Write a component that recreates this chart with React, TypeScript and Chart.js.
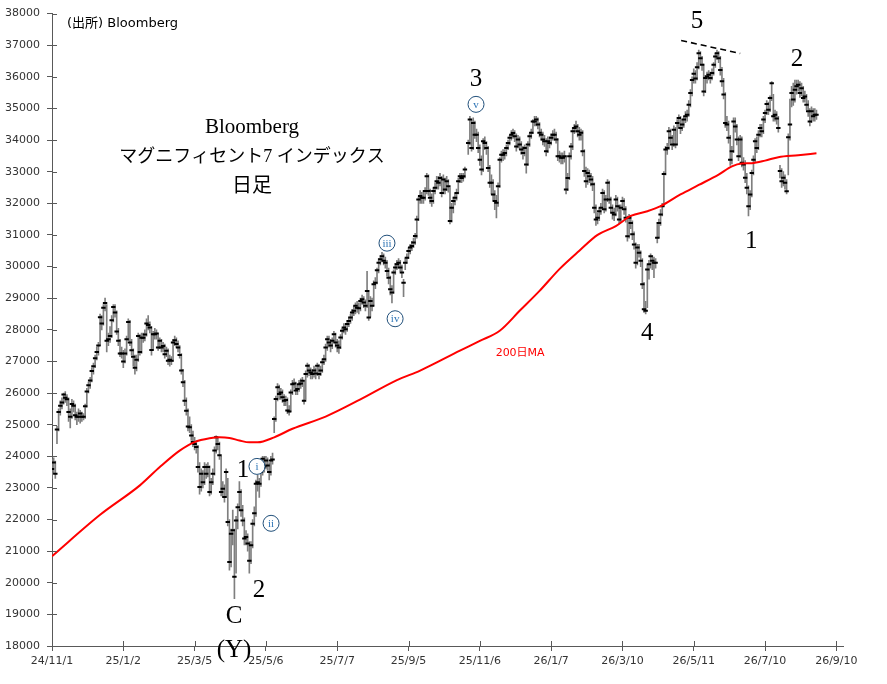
import { useEffect, useRef } from 'react'
import { Chart, registerables } from 'chart.js'

Chart.register(...registerables)

// x axis: one slot per trading day, a label every 43 days
const xLabels = ['24/11/1', '25/1/2', '25/3/5', '25/5/6', '25/7/7', '25/9/5', '25/11/6', '26/1/7', '26/3/10', '26/5/11', '26/7/10', '26/9/10']
const labelStep = 43
const lastSlot = 477

const closes = [
  23600, 23800, 23450, 24850, 25400, 25600, 25700, 25950, 25850, 25800,
  25400, 25250, 25650, 25600, 25300, 25250, 25250, 25350, 25250, 25250,
  25580, 26050, 26250, 26400, 26700, 26850, 27100, 27300, 27500, 28400,
  28200, 28700, 28850, 27650, 27700, 27800, 28300, 28720, 28550, 27950,
  27650, 27250, 27250, 27000, 27250, 27700, 28250, 27600, 27350, 27150,
  26800, 27050, 27800, 27300, 27750, 27750, 27850, 28200, 28150, 28070,
  27360, 27860, 27860, 27880, 27440, 27650, 27440, 27490, 27230, 27340,
  27020, 27050, 27020, 27600, 27670, 27550, 27440, 27200, 26710, 26340,
  25760, 25440, 24940, 24920, 24660, 24450, 24390, 24290, 23660, 23030,
  23450, 23180, 23660, 23450, 23660, 22870, 23180, 23450, 24180, 24600,
  24390, 24030, 22870, 22970, 22710, 23500, 21920, 20660, 21550, 21660,
  20190, 21970, 22390, 22870, 22290, 21970, 21400, 21450, 21240, 20700,
  21190, 21870, 22200, 23130, 23180, 23130, 23500, 23920, 23680, 23870,
  23710, 23500, 23870, 23900, 25180, 25810, 26180, 25970, 26020, 25870,
  25760, 25780, 25450, 25420, 26020, 26280, 26300, 26080, 26130, 26280,
  26300, 26390, 25760, 26600, 26860, 26710, 26650, 26600, 26710, 26620,
  26860, 26600, 26710, 26970, 27070, 27440, 27700, 27600, 27500, 27650,
  27860, 27600, 27500, 27440, 27760, 27970, 28070, 28020, 28180, 28280,
  28390, 28550, 28600, 28760, 28700, 28680, 28910, 28970, 28860, 28760,
  29230, 28390, 28910, 28760, 29440, 29490, 29880, 30120, 30230, 30330,
  30180, 30120, 29860, 29650, 29280, 29180, 29810, 29970, 30070, 30120,
  29970, 29810, 29490, 30120, 30280, 30490, 30600, 30650, 30760, 30970,
  31490, 32120, 32230, 32180, 32180, 32390, 32860, 32390, 32180, 32070,
  32390, 32490, 32700, 32650, 32800, 32330, 32750, 32440, 32700, 32540,
  31440, 31860, 32070, 32180, 32330, 32700, 32860, 32800, 32860, 33070,
  null, 33910, 34650, 33750, 34540, 34170, 34170, 33750, 33380, 33070,
  33960, 33910, 33750, 33120, 32650, 32650, 32280, 32070, 32020, 32540,
  33380, 33540, 33540, 33590, 33750, 33910, 34070, 34170, 34220, 34120,
  33800, 34020, 33860, 33700, 33590, 33750, 33230, 33860, 34120, 34230,
  34590, 34590, 34650, 34490, 34230, 34170, 34020, 33960, 33650, 33960,
  33910, 34070, 34170, 34170, 34020, 33490, 33490, 33440, 33440, 33490,
  32440, 32800, 33490, 33800, 34280, 34380, 34430, 34280, 34170, 34230,
  33650, 33020, 32700, 32960, 32860, 32750, 32600, 31860, 31490, 31540,
  31750, 31860, 32330, 31810, 32120, 32650, 32120, 31860, 31700, 31650,
  32120, 31910, 31490, 31860, 32070, 31810, 31540, 30960, 31540, 31380,
  31020, 30700, 30120, 30600, 30440, 30180, 29440, 28650, 28600, 29910,
  30070, 30330, 30180, 30120, 30120, 30910, 31380, 31650, 31910, 32930,
  33700, 33750, 34280, 34070, 33860, 34330, 33860, 34540, 34700, 34380,
  34490, 34650, 34750, 34800, 35120, 35490, 35900, 36100, 35950, 36300,
  36750, 36590, 36380, 35540, 35960, 36010, 36070, 35960, 36120, 36380,
  36640, 36750, 36590, 36220, 35860, 35440, 34540, 34490, 34070, 33380,
  33650, 34590, 34430, 34020, 33490, 34020, 33280, 33230, 32810, 32490,
  31910, 32280, 32960, 33380, 33960, 33750, 34170, 34380, 34280, 34650,
  34860, 35140, 34960, 35330, 35800, 34750, 34800, 34680, 34380, 33020,
  32700, 32810, 32650, 32380, 34090, 34490, 35490, 35280, 35590, 35700,
  35750, 35490, 35640, 35330, 35380, 35120, 34910, 34590, 34910, 34750,
  34800, 34800,
]

const highs = [
  23900, 23950, 23850, 24950, 25500, 25750, 25850, 26000, 26050, 25950,
  25850, 25500, 25800, 25750, 25650, 25400, 25500, 25450, 25400, 25350,
  25650, 26150, 26350, 26500, 26800, 26950, 27200, 27450, 27600, 28500,
  28450, 28800, 29000, 28800, 27900, 28100, 28450, 28800, 28800, 28600,
  28050, 27700, 27450, 27350, 27400, 27800, 28350, 28300, 27700, 27400,
  27200, 27200, 27900, 27850, 27900, 27900, 28000, 28350, 28450, 28250,
  28100, 27950, 28050, 28000, 27900, 27750, 27700, 27600, 27550, 27450,
  27400, 27200, 27150, 27700, 27800, 27750, 27650, 27500, 27250, 26750,
  26400, 25850, 25500, 25250, 25000, 24800, 24600, 24500, 24350, 23800,
  23600, 23550, 23800, 23750, 23800, 23700, 23300, 23600, 24300, 24650,
  24600, 24450, 24000, 23200, 23100, 23600, 23300, 22000, 21700, 22300,
  21700, 22100, 22500, 23200, 22950, 22450, 22050, 21650, 21550, 21300,
  21300, 22000, 22400, 23250, 23400, 23300, 23650, 24000, 24000, 24000,
  23950, 23800, 24000, 24100, 25250, 25900, 26300, 26250, 26150, 26100,
  25950, 25900, 25850, 25600, 26100, 26400, 26450, 26350, 26250, 26400,
  26450, 26500, 26400, 26700, 26950, 26900, 26800, 26750, 26850, 26800,
  26950, 26900, 26850, 27050, 27200, 27550, 27800, 27800, 27700, 27750,
  27950, 27900, 27700, 27650, 27850, 28050, 28200, 28200, 28300, 28400,
  28500, 28650, 28750, 28850, 28900, 28850, 29000, 29100, 29050, 28950,
  29850, 29250, 29050, 29000, 29550, 29650, 29950, 30250, 30350, 30450,
  30400, 30300, 30200, 29950, 29700, 29400, 29900, 30100, 30200, 30250,
  30200, 30050, 29600, 30250, 30400, 30600, 30700, 30800, 30900, 31050,
  31600, 32200, 32400, 32350, 32400, 32500, 32950, 32900, 32450, 32300,
  32500, 32650, 32850, 32850, 32950, 32850, 32900, 32800, 32850, 32750,
  32500, 32000, 32200, 32300, 32450, 32800, 32950, 32950, 32950, 33150,
  null, 34000, 34750, 34650, 34700, 34600, 34350, 34250, 33850, 33500,
  34050, 34100, 33950, 33800, 33200, 32900, 32750, 32400, 32250, 32650,
  33450, 33650, 33700, 33700, 33850, 34000, 34150, 34300, 34350, 34300,
  34200, 34150, 34100, 33950, 33800, 33850, 33800, 33950, 34200, 34350,
  34650, 34750, 34750, 34700, 34550, 34350, 34250, 34150, 34050, 34100,
  34100, 34200, 34300, 34350, 34250, 34050, 33650, 33600, 33600, 33650,
  33500, 32950, 33600, 33900, 34400, 34500, 34600, 34500, 34400, 34350,
  34300, 33700, 33150, 33100, 33050, 32950, 32850, 32650, 31950, 31700,
  31850, 32000, 32450, 32400, 32250, 32750, 32700, 32200, 31950, 31850,
  32250, 32200, 31950, 31950, 32200, 32150, 31900, 31600, 31650, 31600,
  31450, 31100, 30750, 30700, 30700, 30500, 30250, 29500, 28900, 30050,
  30200, 30400, 30350, 30300, 30250, 31400, 31500, 31800, 32000, 33000,
  33800, 33900, 34400, 34350, 34150, 34450, 34400, 34650, 34800, 34750,
  34650, 34750, 34900, 34950, 35250, 35600, 36000, 36250, 36200, 36450,
  36850, 36800, 36650, 36400, 36050, 36150, 36200, 36150, 36250, 36450,
  36750, 36850, 36800, 36650, 36300, 35950, 35500, 34750, 34600, 34150,
  33800, 34700, 34700, 34500, 34100, 34150, 34100, 33450, 33350, 32950,
  32550, 32400, 33050, 33500, 34050, 34100, 34300, 34500, 34500, 34750,
  34950, 35250, 35200, 35400, 35850, 35450, 34950, 34900, 34750, 33200,
  33100, 33000, 32900, 32750, 34200, 35300, 35700, 35800, 35900, 35900,
  35900, 35850, 35800, 35700, 35550, 35450, 35250, 35000, 35050, 35000,
  35000, 34950,
]

const lows = [
  23300, 23450, 23300, 24400, 24800, 25300, 25500, 25650, 25700, 25600,
  25100, 24900, 25200, 25400, 25150, 25000, 25100, 25050, 25100, 25150,
  25200, 25550, 26000, 26150, 26350, 26600, 26800, 27050, 27200, 27500,
  28000, 28150, 28600, 27300, 27500, 27600, 27750, 28250, 28400, 27850,
  27500, 27150, 27100, 26800, 26950, 27200, 27650, 27500, 27200, 26850,
  26600, 26700, 27000, 27200, 27250, 27600, 27650, 27800, 28000, 27900,
  27200, 27350, 27700, 27700, 27350, 27400, 27300, 27300, 27100, 27150,
  26900, 26850, 26900, 27000, 27500, 27450, 27300, 27100, 26600, 26200,
  25600, 25300, 24800, 24750, 24500, 24300, 24200, 24100, 23500, 22800,
  22900, 23000, 23100, 23300, 23350, 22750, 22800, 23100, 23400, 24100,
  24200, 23900, 22750, 22700, 22550, 22700, 21800, 20400, 20500, 21200,
  19500, 20300, 21700, 22300, 22100, 21800, 21200, 21200, 21000, 20300,
  20600, 21100, 21800, 22100, 22900, 22700, 23050, 23400, 23500, 23600,
  23550, 23250, 23400, 23750, 24750, 25100, 25750, 25800, 25800, 25700,
  25600, 25600, 25350, 25300, 25400, 25950, 26150, 25950, 25950, 26050,
  26150, 26200, 25650, 25800, 26500, 26550, 26450, 26450, 26500, 26450,
  26550, 26450, 26550, 26650, 26900, 27000, 27350, 27450, 27300, 27400,
  27600, 27450, 27300, 27250, 27400, 27700, 27900, 27850, 27950, 28100,
  28200, 28300, 28450, 28500, 28550, 28500, 28600, 28800, 28700, 28600,
  28700, 28300, 28400, 28600, 28750, 29300, 29450, 29800, 30050, 30150,
  30050, 29950, 29700, 29450, 29100, 28850, 29150, 29750, 29900, 29950,
  29850, 29650, 29050, 29900, 30100, 30250, 30400, 30500, 30600, 30700,
  30900, 31450, 32000, 32000, 32000, 32100, 32300, 32250, 32000, 31900,
  32000, 32300, 32450, 32450, 32550, 32200, 32300, 32300, 32400, 32350,
  31350, 31400, 31700, 31950, 32100, 32300, 32650, 32650, 32700, 32800,
  null, 33550, 33850, 33650, 33700, 34050, 33950, 33600, 33200, 32900,
  33000, 33700, 33550, 33000, 32500, 32300, 32100, 31800, 31540, 31900,
  32500, 33300, 33350, 33400, 33500, 33700, 33850, 34000, 34050, 33950,
  33650, 33750, 33700, 33550, 33400, 33500, 32950, 33200, 33800, 34050,
  34200, 34450, 34450, 34350, 34100, 34000, 33850, 33800, 33500, 33600,
  33750, 33850, 34000, 34000, 33900, 33350, 33300, 33250, 33250, 33300,
  32300, 32400, 32750, 33400, 33700, 34200, 34250, 34100, 34000, 34000,
  33500, 32850, 32500, 32600, 32650, 32550, 32400, 31700, 31300, 31350,
  31450, 31650, 31800, 31700, 31750, 32050, 32000, 31700, 31500, 31450,
  31600, 31750, 31350, 31400, 31800, 31650, 31400, 30800, 30900, 31200,
  30850, 30550, 29950, 30050, 30300, 30000, 29300, 28550, 28500, 28700,
  29600, 29950, 29900, 29650, 29950, 30750, 30900, 31300, 31600, 31900,
  32900, 33550, 33700, 33900, 33700, 33800, 33750, 33850, 34400, 34200,
  34300, 34400, 34550, 34600, 34750, 35050, 35400, 35800, 35800, 35900,
  36250, 36400, 36200, 35400, 35500, 35800, 35900, 35800, 35900, 36050,
  36300, 36550, 36450, 36050, 35700, 35300, 34400, 34300, 33900, 33200,
  33250, 33600, 34250, 33850, 33350, 33450, 33150, 33050, 32650, 32300,
  31600, 31800, 32200, 32900, 33300, 33600, 33700, 34100, 34100, 34200,
  34550, 34800, 34800, 34900, 35250, 34600, 34600, 34500, 34250, 32800,
  32500, 32550, 32450, 32300, 32900, 34000, 35050, 35100, 35200, 35450,
  35550, 35350, 35400, 35200, 35200, 34950, 34750, 34450, 34550, 34600,
  34600, 34650,
]

// 200-day moving average, read at these day slots
const maIdx = [0, 29, 53, 65, 77, 86, 95, 101, 107, 113, 119, 124, 134, 145, 165, 186, 208, 222, 246, 258, 270, 282, 294, 306, 318, 329, 340, 349, 359, 367, 379, 390, 402, 410, 416, 422, 430, 438, 450, 461]
const maVal = [20840, 22150, 23080, 23660, 24180, 24450, 24570, 24600, 24580, 24500, 24440, 24440, 24600, 24870, 25255, 25800, 26410, 26710, 27340, 27650, 27970, 28600, 29230, 29920, 30500, 31000, 31280, 31600, 31750, 31910, 32280, 32580, 32910, 33170, 33260, 33270, 33350, 33460, 33520, 33580]

// wave count labels
const waveText = ['5', '3', '2', '1', '4', '1', '2', 'C', '(Y)']
const waveIdx = [389, 255.7, 449.3, 421.6, 358.9, 115.2, 124.8, 109.8, 109.8]
const waveVal = [37750, 35920, 36550, 30810, 27870, 23550, 19770, 18920, 17870]

const subText = ['v', 'iii', 'iv', 'i', 'ii']
const subIdx = [255.7, 202, 206.9, 123.6, 132.1]
const subVal = [35130, 30740, 28350, 23680, 21880]

const titleLines = ['Bloomberg', 'マグニフィセント7 インデックス', '日足']
const titleSizes = [21, 18, 20]
const titleIdx = 120.6
const titleVal = [34400, 33460, 32510]

const trendIdx = [379.4, 415]
const trendVal = [37150, 36740]

const maLabelIdx = 282.3
const maLabelVal = 27270

const AXIS = '#595959'
const SANS = '"DejaVu Sans", "Noto Sans CJK JP", sans-serif'
const SERIF = '"Liberation Serif", "DejaVu Serif", "Noto Sans CJK JP", serif'

const overlay = {
  id: 'overlay',
  afterDraw(chart: any) {
    const { ctx, chartArea } = chart
    const x = chart.scales.x
    const y = chart.scales.y
    const px = (v: number) => x.getPixelForValue(v)
    const py = (v: number) => y.getPixelForValue(v)
    ctx.save()

    // tick marks that cross into the plot
    ctx.strokeStyle = AXIS
    ctx.lineWidth = 1
    ctx.beginPath()
    y.ticks.forEach((t: any) => {
      const yy = Math.round(py(t.value)) + 0.5
      ctx.moveTo(chartArea.left, yy)
      ctx.lineTo(chartArea.left + 5, yy)
    })
    x.ticks.forEach((t: any) => {
      const xx = Math.round(px(t.value)) + 0.5
      ctx.moveTo(xx, chartArea.bottom)
      ctx.lineTo(xx, chartArea.bottom - 5)
    })
    ctx.stroke()

    // dashed line over the wave 5 top
    ctx.strokeStyle = '#000'
    ctx.lineWidth = 1.6
    ctx.setLineDash([6, 4])
    ctx.beginPath()
    ctx.moveTo(px(trendIdx[0]), py(trendVal[0]))
    ctx.lineTo(px(trendIdx[1]), py(trendVal[1]))
    ctx.stroke()
    ctx.setLineDash([])

    ctx.textAlign = 'center'
    ctx.textBaseline = 'middle'
    ctx.fillStyle = '#000'
    ctx.font = `25px ${SERIF}`
    waveText.forEach((t, i) => ctx.fillText(t, px(waveIdx[i]), py(waveVal[i])))

    titleLines.forEach((t, i) => {
      ctx.font = `${titleSizes[i]}px ${SERIF}`
      ctx.fillText(t, px(titleIdx), py(titleVal[i]))
    })

    subText.forEach((t, i) => {
      const cx = px(subIdx[i])
      const cy = py(subVal[i])
      ctx.beginPath()
      ctx.arc(cx, cy, 8, 0, Math.PI * 2)
      ctx.fillStyle = '#fff'
      ctx.fill()
      ctx.strokeStyle = '#1f4e79'
      ctx.lineWidth = 1
      ctx.stroke()
      ctx.fillStyle = '#2e75b6'
      ctx.font = `11px ${SERIF}`
      ctx.fillText(t, cx, cy + 0.5)
    })

    ctx.fillStyle = '#ff0000'
    ctx.font = `11px ${SANS}`
    ctx.fillText('200日MA', px(maLabelIdx), py(maLabelVal))

    ctx.fillStyle = '#000'
    ctx.textAlign = 'left'
    ctx.font = `13px ${SANS}`
    ctx.fillText('(出所) Bloomberg', chartArea.left + 15, chartArea.top + 10)

    ctx.restore()
  },
}

export default function App() {
  const canvasRef = useRef<HTMLCanvasElement>(null)
  const chartRef = useRef<Chart | null>(null)

  useEffect(() => {
    if (!canvasRef.current) return
    if (chartRef.current) chartRef.current.destroy()

    const rangeData: any[] = []
    const closeData: any[] = []
    closes.forEach((c, i) => {
      if (c == null) return
      rangeData.push({ x: i, y: [lows[i], highs[i]] })
      closeData.push({ x: i, y: c })
    })
    const maData = maIdx.map((v, i) => ({ x: v, y: maVal[i] }))

    chartRef.current = new Chart(canvasRef.current, {
      type: 'bar',
      data: {
        datasets: [
          {
            type: 'line',
            label: '200日MA',
            data: maData,
            borderColor: '#ff0000',
            borderWidth: 2,
            pointRadius: 0,
            cubicInterpolationMode: 'monotone',
            order: 0,
          },
          {
            type: 'line',
            label: 'close',
            data: closeData,
            showLine: false,
            pointStyle: 'line',
            pointRadius: 2.2,
            pointBorderWidth: 2,
            pointBorderColor: '#000',
            borderColor: '#000',
            order: 1,
          },
          {
            type: 'bar',
            label: 'range',
            data: rangeData,
            backgroundColor: '#7f7f7f',
            barThickness: 1,
            grouped: false,
            order: 2,
          },
        ] as any,
      },
      options: {
        animation: false,
        responsive: true,
        maintainAspectRatio: false,
        events: [],
        layout: { padding: { left: 0, right: 44, top: 12, bottom: 0 } },
        plugins: {
          legend: { display: false },
          tooltip: { enabled: false },
        },
        scales: {
          x: {
            type: 'linear',
            min: 0,
            max: lastSlot,
            offset: false,
            afterFit: (s: any) => {
              s.height = 38
            },
            afterBuildTicks: (s: any) => {
              s.ticks = xLabels.map((_, i) => ({ value: i * labelStep }))
            },
            ticks: {
              autoSkip: false,
              maxRotation: 0,
              padding: 4,
              color: '#333',
              font: { family: SANS, size: 11 },
              callback: (_v: any, i: number) => xLabels[i],
            },
            grid: { drawOnChartArea: false, offset: false, tickLength: 5, color: AXIS },
            border: { color: AXIS },
          },
          y: {
            min: 18000,
            max: 38000,
            afterFit: (s: any) => {
              s.width = 52
            },
            ticks: {
              stepSize: 1000,
              padding: 7,
              color: '#333',
              font: { family: SANS, size: 11 },
              callback: (v: any) => String(v),
            },
            grid: { drawOnChartArea: false, tickLength: 5, color: AXIS },
            border: { color: AXIS },
          },
        },
      } as any,
      plugins: [overlay],
    })

    return () => {
      if (chartRef.current) {
        chartRef.current.destroy()
        chartRef.current = null
      }
    }
  }, [])

  return (
    <div style={{ position: 'fixed', left: 0, top: 0, width: 887, height: 684, background: '#fff' }}>
      <canvas ref={canvasRef} />
    </div>
  )
}
